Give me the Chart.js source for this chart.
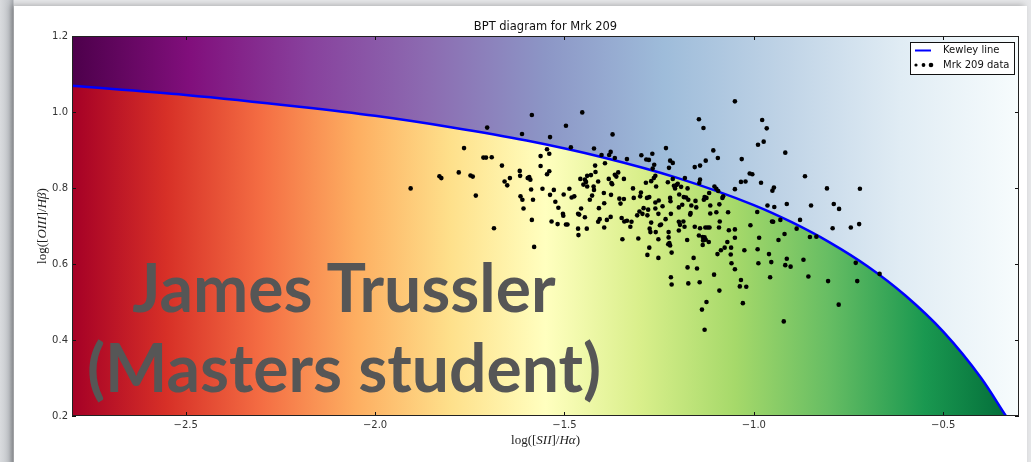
<!DOCTYPE html>
<html>
<head>
<meta charset="utf-8">
<script src="https://cdn.jsdelivr.net/npm/chart.js@4.4.1/dist/chart.umd.min.js"></script>
<style>
  html, body { margin: 0; padding: 0; }
  body { width: 1031px; height: 462px; overflow: hidden; position: relative;
         background: linear-gradient(to right, #d9dbde 0px, #c4c7cb 9px, #a9acb1 13px, #e6e7e9 14px); }
  #slide { position: absolute; left: 14px; top: 6px; width: 1013px; height: 470px; background: #fff;
           box-shadow: -3px -1px 6px rgba(0,0,0,0.25); }
  #chart { position: absolute; left: 0; top: 0; }
  #caption { position: absolute; left: 44px; top: 247px; width: 600px; text-align: center;
             font-family: Lato, "Open Sans", sans-serif; font-weight: 700; font-size: 66px;
             line-height: 80px; color: #565656; white-space: nowrap; }
</style>
</head>
<body>
<div id="slide"></div>
<canvas id="chart" width="1031" height="462"></canvas>
<div id="caption">James Trussler<br>(Masters student)</div>
<script>
// BPT diagram for Mrk 209
const TITLE = 'BPT diagram for Mrk 209';
const X_TICKS = [-2.5, -2.0, -1.5, -1.0, -0.5];
const Y_TICKS = [0.2, 0.4, 0.6, 0.8, 1.0, 1.2];

// Kewley line, points
const KEWLEY_X = [-2.8, -2.5, -2.2, -2.0, -1.8, -1.6, -1.4, -1.2, -1.0, -0.9, -0.8, -0.7, -0.6, -0.5, -0.4, -0.335];
const KEWLEY_Y = [1.069, 1.045, 1.014, 0.990, 0.960, 0.925, 0.881, 0.826, 0.755, 0.710, 0.657, 0.594, 0.517, 0.422, 0.300, 0.201];

// Mrk 209 spaxels
const MRK_X = [
  -1.586,-1.704,-1.612,-1.538,-1.496,-1.765,-1.546,-1.540,-1.563,-1.714,-1.707,-1.692,-1.665,-1.563,-1.779,-1.830,
  -1.825,-1.748,-1.742,-1.618,-1.617,-1.540,-1.546,-1.644,-1.658,-1.651,-1.597,-1.590,-1.593,-1.906,-1.734,-1.588,
  -1.558,-1.528,-1.502,-1.616,-1.611,-1.583,-1.538,-1.524,-1.608,-1.516,-1.504,-1.453,-1.373,-1.483,-1.422,-1.145,
  -1.133,-1.050,-1.107,-1.095,-1.232,-1.402,-1.382,-1.378,-1.367,-1.335,-1.297,-1.268,-1.284,-1.277,-1.263,-1.267,
  -1.221,-1.214,-1.224,-1.156,-1.142,-1.127,-1.419,-1.393,-1.418,-1.440,-1.430,-1.458,-1.446,-1.443,-1.440,-1.450,
  -1.411,-1.383,-1.374,-1.376,-1.363,-1.358,-1.367,-1.343,-1.422,-1.423,-1.396,-1.427,-1.433,-1.481,-1.474,-1.487,
  -1.456,-1.464,-1.377,-1.355,-1.343,-1.352,-1.319,-1.298,-1.300,-1.285,-1.271,-1.260,-1.264,-1.258,-1.276,-1.282,
  -1.317,-1.260,-1.251,-1.241,-1.260,-1.291,-1.302,-1.279,-1.227,-1.214,-1.204,-1.208,-1.211,-1.201,-1.192,-1.182,
  -1.175,-1.221,-1.220,-1.197,-1.185,-1.179,-1.173,-1.198,-1.189,-1.165,-1.142,-1.144,-1.104,-1.099,-1.094,-1.118,
  -1.125,-1.132,-1.130,-1.154,-1.152,-1.115,-1.091,-1.083,-1.081,-1.050,-1.068,-1.099,-1.115,-1.167,-1.219,-1.252,
  -1.294,-1.409,-1.395,-0.978,-0.966,-0.974,-0.989,-0.917,-1.032,-1.011,-1.004,-1.034,-1.022,-0.981,-0.865,-0.947,
  -0.951,-0.807,-0.720,-0.964,-0.946,-0.913,-0.849,-0.789,-0.775,-0.991,-1.461,-1.446,-1.492,-1.464,-1.441,-1.463,
  -1.407,-1.411,-1.388,-1.378,-1.395,-1.349,-1.342,-1.335,-1.323,-1.326,-1.308,-1.281,-1.271,-1.275,-1.273,-1.259,
  -1.248,-1.245,-1.233,-1.225,-1.198,-1.186,-1.183,-1.195,-1.198,-1.168,-1.156,-1.142,-1.128,-1.122,-1.117,-1.092,
  -1.090,-1.066,-1.050,-1.347,-1.305,-1.252,-1.225,-1.226,-1.221,-1.223,-1.276,-1.281,-1.217,-1.252,-1.176,-1.145,
  -1.135,-1.130,-1.127,-1.134,-1.119,-1.135,-1.159,-1.175,-1.150,-1.096,-1.087,-1.077,-1.070,-1.060,-1.061,-1.050,
  -1.059,-1.050,-1.105,-1.219,-1.217,-1.173,-1.143,-1.091,-1.125,-1.137,-1.130,-1.009,-0.952,-0.949,-0.930,-0.878,
  -0.887,-0.919,-0.935,-0.986,-0.852,-0.835,-0.792,-0.744,-0.722,-1.025,-0.990,-0.960,-0.913,-0.954,-0.869,-0.988,
  -0.917,-0.903,-0.731,-0.668,-0.856,-0.957,-1.034,-1.037,-1.020,-0.804,-0.727,-1.029,-0.776,-0.921,-1.686,-1.586,
  -1.534,-1.518,-1.496,-1.503,-1.580
];
const MRK_Y = [
  0.992,0.959,0.942,0.934,0.964,0.905,0.902,0.890,0.884,0.880,0.880,0.881,0.859,0.858,0.841,0.831,
  0.826,0.833,0.830,0.845,0.832,0.844,0.836,0.826,0.817,0.807,0.826,0.822,0.829,0.799,0.780,0.796,
  0.798,0.795,0.783,0.778,0.769,0.769,0.782,0.764,0.746,0.748,0.732,0.999,0.941,0.907,0.904,0.981,
  0.958,1.028,0.899,0.879,0.905,0.887,0.887,0.895,0.879,0.876,0.886,0.890,0.875,0.874,0.861,0.851,
  0.872,0.866,0.853,0.855,0.859,0.872,0.859,0.865,0.842,0.832,0.834,0.824,0.822,0.816,0.804,0.809,
  0.817,0.824,0.810,0.813,0.830,0.841,0.835,0.824,0.795,0.804,0.787,0.780,0.769,0.775,0.778,0.798,
  0.746,0.732,0.782,0.772,0.771,0.759,0.799,0.788,0.778,0.814,0.818,0.832,0.826,0.804,0.776,0.774,
  0.774,0.762,0.767,0.752,0.746,0.747,0.738,0.743,0.815,0.824,0.808,0.799,0.806,0.811,0.803,0.826,
  0.799,0.774,0.765,0.783,0.776,0.775,0.769,0.749,0.756,0.754,0.822,0.813,0.804,0.798,0.792,0.787,
  0.774,0.769,0.776,0.766,0.749,0.754,0.757,0.774,0.778,0.797,0.736,0.736,0.733,0.734,0.732,0.732,
  0.732,0.747,0.760,0.979,0.957,0.922,0.914,0.893,0.876,0.838,0.836,0.816,0.817,0.814,0.831,0.801,
  0.793,0.799,0.798,0.754,0.750,0.758,0.754,0.758,0.745,0.737,0.730,0.723,0.704,0.693,0.693,0.676,
  0.718,0.711,0.716,0.724,0.696,0.721,0.712,0.714,0.711,0.698,0.728,0.728,0.709,0.693,0.684,0.684,
  0.702,0.704,0.718,0.684,0.711,0.712,0.698,0.703,0.688,0.730,0.698,0.694,0.696,0.696,0.696,0.696,
  0.712,0.689,0.691,0.665,0.667,0.665,0.670,0.652,0.649,0.655,0.643,0.624,0.630,0.616,0.663,0.675,
  0.671,0.670,0.664,0.662,0.658,0.650,0.616,0.591,0.588,0.626,0.636,0.643,0.658,0.643,0.625,0.669,
  0.602,0.586,0.572,0.565,0.546,0.549,0.552,0.530,0.500,0.480,0.427,0.702,0.712,0.711,0.716,0.716,
  0.693,0.679,0.663,0.669,0.671,0.672,0.694,0.696,0.705,0.636,0.639,0.626,0.614,0.605,0.611,0.602,
  0.597,0.593,0.603,0.574,0.567,0.565,0.558,0.541,0.540,0.555,0.555,0.497,0.493,0.449,0.694,0.716,
  0.712,0.705,0.704,0.727,0.645
];

// colour maps of the two shaded regions (matplotlib RdYlGn below, BuPu_r above the line)
const BELOW_STOPS = ['#a50026','#d73027','#f46d43','#fdae61','#fee08b','#ffffbf','#d9ef8b','#a6d96a','#66bd63','#1a9850','#006837'];
const ABOVE_STOPS = ['#4d004b','#810f7c','#88419d','#8c6bb1','#8c96c6','#9ebcda','#bfd3e6','#e0ecf4','#f7fcfd'];

function hGradient(ctx, area, stops){
  const g = ctx.createLinearGradient(area.left, 0, area.right, 0);
  stops.forEach((c, i) => g.addColorStop(i / (stops.length - 1), c));
  return g;
}

function fmtTick(v){
  return v.toFixed(1).replace('-', '\u2212');
}

// draw a mathtext-ish label: array of [text, italic]
function drawMath(ctx, parts, cx, cy, rotate){
  ctx.save();
  ctx.translate(cx, cy);
  if(rotate) ctx.rotate(-Math.PI / 2);
  ctx.fillStyle = '#222';
  ctx.textBaseline = 'middle';
  ctx.textAlign = 'left';
  let total = 0;
  const widths = parts.map(p => {
    ctx.font = (p[1] ? 'italic ' : '') + '13px "Liberation Serif"';
    const w = ctx.measureText(p[0]).width; total += w; return w;
  });
  let x = -total / 2;
  parts.forEach((p, i) => {
    ctx.font = (p[1] ? 'italic ' : '') + '13px "Liberation Serif"';
    ctx.fillText(p[0], x, 0);
    x += widths[i];
  });
  ctx.restore();
}

const framePlugin = {
  id: 'bptFrame',
  beforeDatasetsDraw(chart){
    const {ctx, chartArea: a} = chart;
    ctx.save();
    ctx.fillStyle = hGradient(ctx, a, ABOVE_STOPS);
    ctx.fillRect(a.left, a.top, a.right - a.left, a.bottom - a.top);
    ctx.restore();
  },
  afterDatasetsDraw(chart){
    const {ctx, chartArea: a, scales} = chart;
    ctx.save();
    ctx.strokeStyle = '#111';
    ctx.lineWidth = 1;
    ctx.beginPath();
    scales.x.ticks.forEach(t => {
      const px = Math.round(scales.x.getPixelForValue(t.value)) + 0.5;
      ctx.moveTo(px, a.bottom); ctx.lineTo(px, a.bottom - 4);
      ctx.moveTo(px, a.top); ctx.lineTo(px, a.top + 4);
    });
    scales.y.ticks.forEach(t => {
      const py = Math.round(scales.y.getPixelForValue(t.value)) + 0.5;
      ctx.moveTo(a.left, py); ctx.lineTo(a.left + 4, py);
      ctx.moveTo(a.right, py); ctx.lineTo(a.right - 4, py);
    });
    ctx.stroke();
    ctx.strokeStyle = '#222';
    ctx.strokeRect(Math.round(a.left) + 0.5, Math.round(a.top) + 0.5,
                   Math.round(a.right - a.left) - 1, Math.round(a.bottom - a.top) - 1);

    // legend, upper right inside the axes
    const ds = chart.data.datasets;
    const bw = 105, bh = 33;
    const bx = a.right - 4 - bw, by = a.top + 6;
    ctx.fillStyle = '#fff';
    ctx.fillRect(bx, by, bw, bh);
    ctx.strokeStyle = '#111';
    ctx.strokeRect(bx + 0.5, by + 0.5, bw - 1, bh - 1);
    ctx.strokeStyle = ds[1].borderColor;
    ctx.lineWidth = 2;
    ctx.beginPath(); ctx.moveTo(bx + 5, by + 8.5); ctx.lineTo(bx + 21, by + 8.5); ctx.stroke();
    ctx.fillStyle = '#000';
    [[bx + 6, 1.6], [bx + 13.5, 1.9], [bx + 21, 2.3]].forEach(d => {
      ctx.beginPath(); ctx.arc(d[0], by + 23, d[1], 0, Math.PI * 2); ctx.fill();
    });
    ctx.font = '10px "DejaVu Sans"';
    ctx.textBaseline = 'middle';
    ctx.textAlign = 'left';
    ctx.fillStyle = '#111';
    ctx.fillText(ds[1].label, bx + 33, by + 8.5);
    ctx.fillText(ds[0].label, bx + 33, by + 23);
    ctx.restore();
  },
  afterDraw(chart){
    const {ctx, chartArea: a} = chart;
    ctx.save();
    ctx.font = '11.5px "DejaVu Sans"';
    ctx.fillStyle = '#111';
    ctx.textAlign = 'center';
    ctx.textBaseline = 'middle';
    ctx.fillText(TITLE, (a.left + a.right) / 2, 27);
    ctx.restore();
    drawMath(ctx, [['log([', false], ['SII', true], [']/', false], ['H\u03b1', true], [')', false]],
             (a.left + a.right) / 2, 441, false);
    drawMath(ctx, [['log([', false], ['OIII', true], [']/', false], ['H\u03b2', true], [')', false]],
             43, (a.top + a.bottom) / 2, true);
  }
};

const tickFont = {family: 'DejaVu Sans', size: 10};

new Chart(document.getElementById('chart'), {
  type: 'scatter',
  data: {
    datasets: [
      {
        label: 'Mrk 209 data',
        data: MRK_X.map((x, i) => ({x: x, y: MRK_Y[i]})),
        backgroundColor: '#000',
        borderColor: '#000',
        pointRadius: 2.3,
        borderWidth: 0
      },
      {
        type: 'line',
        label: 'Kewley line',
        data: KEWLEY_X.map((x, i) => ({x: x, y: KEWLEY_Y[i]})),
        borderColor: '#0000ff',
        borderWidth: 2.5,
        pointRadius: 0,
        cubicInterpolationMode: 'monotone',
        fill: 'start',
        backgroundColor: function(c){
          const a = c.chart.chartArea;
          if(!a) return 'transparent';
          return hGradient(c.chart.ctx, a, BELOW_STOPS);
        }
      }
    ]
  },
  options: {
    responsive: false,
    animation: false,
    devicePixelRatio: 1,
    layout: {padding: {top: 36, right: 12, left: 0, bottom: 0}},
    plugins: {legend: {display: false}, tooltip: {enabled: false}, title: {display: false}},
    scales: {
      x: {
        type: 'linear', min: -2.8, max: -0.3,
        afterFit: s => { s.height = 46; },
        afterBuildTicks: s => { s.ticks = X_TICKS.map(v => ({value: v})); },
        grid: {display: false, drawTicks: false},
        border: {display: false},
        ticks: {padding: 3, autoSkip: false, maxRotation: 0, font: tickFont, color: '#333', callback: v => fmtTick(v)}
      },
      y: {
        type: 'linear', min: 0.2, max: 1.2,
        afterFit: s => { s.width = 72; },
        afterBuildTicks: s => { s.ticks = Y_TICKS.map(v => ({value: v})); },
        grid: {display: false, drawTicks: false},
        border: {display: false},
        ticks: {padding: 4, autoSkip: false, font: tickFont, color: '#333', callback: v => fmtTick(v)}
      }
    }
  },
  plugins: [framePlugin]
});
</script>
</body>
</html>
